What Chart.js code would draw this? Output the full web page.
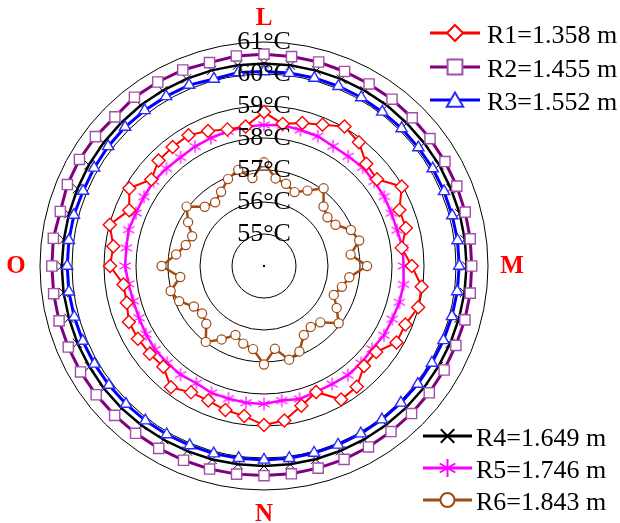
<!DOCTYPE html>
<html>
<head>
<meta charset="utf-8">
<script src="https://cdn.jsdelivr.net/npm/chart.js@4.4.0/dist/chart.umd.min.js"></script>
<style>
html,body{margin:0;padding:0;background:#fff;}
#wrap{width:620px;height:523px;position:relative;}
canvas{display:block;}
</style>
</head>
<body>
<div id="wrap"><canvas id="c" width="620" height="523"></canvas></div>
<script>
// ---- data ----
const directionLabels = ['L', 'M', 'N', 'O'];   // top, right, bottom, left
const pointCount = 48;                           // one point every 7.5°
const tickValues = [55, 56, 57, 58, 59, 60, 61];
const seriesNames = ['R1=1.358 m', 'R2=1.455 m', 'R3=1.552 m', 'R4=1.649 m', 'R5=1.746 m', 'R6=1.843 m'];

const R1 = [58.81,58.48,58.63,58.78,59.03,58.87,58.52,58.45,58.97,58.58,58.59,58.34,
            58.62,58.97,58.99,58.78,58.78,58.42,58.42,58.76,58.82,58.26,58.52,58.87,
            58.97,58.73,58.66,58.55,58.56,58.78,58.45,58.50,58.55,58.57,58.44,58.43,
            58.81,58.75,58.99,58.56,58.86,58.44,58.66,58.69,58.72,58.57,58.42,58.40];
const R2 = [60.62,60.60,60.60,60.58,60.57,60.57,60.55,60.54,60.53,60.52,60.51,60.50,
            60.49,60.50,60.50,60.49,60.50,60.51,60.52,60.52,60.53,60.54,60.54,60.55,
            60.55,60.56,60.57,60.57,60.58,60.59,60.60,60.61,60.62,60.62,60.63,60.63,
            60.63,60.64,60.59,60.65,60.66,60.64,60.59,60.65,60.64,60.63,60.58,60.62];
const R3 = [60.08,60.08,60.08,60.08,60.08,60.07,60.08,60.08,60.09,60.09,60.09,60.10,
            60.10,60.09,60.08,60.07,60.06,60.06,60.05,60.05,60.05,60.05,60.05,60.06,
            60.06,60.06,60.07,60.07,60.08,60.09,60.10,60.11,60.12,60.13,60.14,60.15,
            60.15,60.15,60.15,60.12,60.13,60.14,60.14,60.13,60.12,60.12,60.05,60.10];
const R4 = [60.33,60.33,60.32,60.32,60.32,60.32,60.31,60.31,60.32,60.32,60.33,60.33,
            60.33,60.32,60.31,60.30,60.29,60.28,60.27,60.26,60.26,60.25,60.25,60.25,
            60.25,60.25,60.26,60.26,60.27,60.28,60.29,60.30,60.30,60.31,60.31,60.32,
            60.32,60.31,60.31,60.31,60.32,60.32,60.32,60.33,60.33,60.33,60.33,60.33];
const R5 = [58.41,58.44,58.40,58.39,58.32,58.32,58.36,58.34,58.34,58.31,58.31,58.37,
            58.36,58.40,58.38,58.34,58.33,58.26,58.29,58.30,58.26,58.26,58.30,58.24,
            58.31,58.31,58.29,58.29,58.23,58.28,58.28,58.29,58.26,58.23,58.23,58.27,
            58.34,58.34,58.38,58.33,58.33,58.35,58.31,58.28,58.31,58.33,58.36,58.39];
const R6 = [57.24,56.76,56.66,56.50,56.72,57.06,56.63,56.50,56.58,56.94,57.08,56.73,
            57.22,56.69,56.52,56.36,56.62,56.94,56.49,56.40,56.49,56.89,57.03,56.61,
            57.08,56.62,56.51,56.33,56.65,56.99,56.55,56.44,56.53,56.87,57.02,56.64,
            57.20,56.77,56.53,56.43,56.74,57.05,56.62,56.51,56.68,56.94,57.11,56.77];

// ---- styles ----
const serif = '"Liberation Serif", "Times New Roman", Times, serif';

function asteriskCanvas(r, color, lw) {
  const size = Math.ceil(2 * r + 2 * lw + 2);
  const cv = document.createElement('canvas');
  cv.width = size; cv.height = size;
  const c = cv.getContext('2d');
  const m = size / 2;
  c.strokeStyle = color; c.lineWidth = lw; c.lineCap = 'butt';
  c.beginPath();
  for (let j = 0; j < 3; j++) {
    const a = Math.PI / 2 + j * Math.PI / 3;
    c.moveTo(m + Math.cos(a) * r, m - Math.sin(a) * r);
    c.lineTo(m - Math.cos(a) * r, m + Math.sin(a) * r);
  }
  c.stroke();
  return cv;
}

const styles = [
  {line:'#ff0000', mark:'#ff0000', shape:'rectRot',  r:6.5, lw:2,   pw:1.4},
  {line:'#800080', mark:'#a050a8', shape:'rect',     r:7.2, lw:3,   pw:1.4},
  {line:'#0000ff', mark:'#2a2aff', shape:'triangle', r:6.5, lw:3,   pw:1.4},
  {line:'#000000', mark:'#000000', shape:'crossRot', r:6.5, lw:2.5, pw:1},
  {line:'#ff00ff', mark:'#ff00ff', shape:'asterisk', r:6.5, lw:2.5, pw:1.2},
  {line:'#a04a14', mark:'#a04a14', shape:'circle',   r:4.6, lw:2.5, pw:1.2}
];
const seriesData = [R1, R2, R3, R4, R5, R6];

const labels = [];
for (let i = 0; i < pointCount; i++) {
  labels.push(i % (pointCount / 4) === 0 ? directionLabels[i / (pointCount / 4)] : '');
}

const datasets = seriesData.map((d, k) => {
  const st = styles[k];
  const ps = st.shape === 'asterisk' ? asteriskCanvas(st.r, st.mark, st.pw) : st.shape;
  return {
    label: seriesNames[k],
    data: d,
    borderColor: st.line,
    borderWidth: st.lw,
    fill: false,
    tension: 0,
    pointStyle: ps,
    pointRadius: st.r,
    pointHoverRadius: st.r,
    pointBorderColor: st.mark,
    pointBackgroundColor: '#ffffff',
    pointBorderWidth: st.pw,
    order: k
  };
});

function marker(ctx, shape, x, y, r, color, lw) {
  ctx.save();
  ctx.strokeStyle = color; ctx.fillStyle = '#fff'; ctx.lineWidth = lw;
  ctx.beginPath();
  const s = Math.SQRT1_2 * r;
  if (shape === 'rectRot') {
    ctx.moveTo(x, y - r); ctx.lineTo(x + r, y); ctx.lineTo(x, y + r); ctx.lineTo(x - r, y); ctx.closePath();
    ctx.fill(); ctx.stroke();
  } else if (shape === 'rect') {
    ctx.rect(x - s, y - s, 2 * s, 2 * s); ctx.fill(); ctx.stroke();
  } else if (shape === 'triangle') {
    for (let j = 0; j < 3; j++) {
      const a = j * 2 * Math.PI / 3;
      const px = x + Math.sin(a) * r, py = y - Math.cos(a) * r;
      if (j === 0) ctx.moveTo(px, py); else ctx.lineTo(px, py);
    }
    ctx.closePath(); ctx.fill(); ctx.stroke();
  } else if (shape === 'crossRot') {
    ctx.moveTo(x - s, y - s); ctx.lineTo(x + s, y + s);
    ctx.moveTo(x + s, y - s); ctx.lineTo(x - s, y + s); ctx.stroke();
  } else if (shape === 'asterisk') {
    for (let j = 0; j < 3; j++) {
      const a = Math.PI / 2 + j * Math.PI / 3;
      ctx.moveTo(x + Math.cos(a) * r, y - Math.sin(a) * r);
      ctx.lineTo(x - Math.cos(a) * r, y + Math.sin(a) * r);
    }
    ctx.stroke();
  } else if (shape === 'circle') {
    ctx.arc(x, y, r, 0, 2 * Math.PI); ctx.fill(); ctx.stroke();
  }
  ctx.restore();
}

const extras = {
  id: 'extras',
  afterDatasetsDraw(chart) {
    const ctx = chart.ctx;
    const s = chart.scales.r;
    ctx.save();
    // temperature ring labels, drawn above the series like the original
    ctx.fillStyle = '#000';
    ctx.font = '26px ' + serif;
    ctx.textAlign = 'center';
    ctx.textBaseline = 'middle';
    tickValues.forEach(v => {
      const d = s.getDistanceFromCenterForValue(v);
      ctx.fillText(v + '°C', s.xCenter, s.yCenter - d);
    });
    ctx.restore();
  },
  afterDraw(chart) {
    const ctx = chart.ctx;
    const s = chart.scales.r;
    ctx.save();
    // center dot
    ctx.fillStyle = '#000';
    ctx.fillRect(s.xCenter - 1, s.yCenter - 1, 2, 2);
    // direction labels
    ctx.fillStyle = '#ff0000';
    ctx.font = 'bold 25px ' + serif;
    ctx.textAlign = 'center';
    ctx.textBaseline = 'middle';
    labels.forEach((t, i) => {
      if (!t) return;
      const p = s.getPointPosition(i, s.drawingArea + 24);
      ctx.fillText(t, p.x, p.y + 1);
    });
    // legends (two blocks)
    const groups = [
      {items:[0,1,2], x0:430, x1:480, tx:487, ys:[33,67,100]},
      {items:[3,4,5], x0:423, x1:472, tx:476, ys:[436,468,500]}
    ];
    const legMarkR = [8, 10.5, 9.5, 9.5, 9, 7];
    ctx.font = '26px ' + serif;
    ctx.textAlign = 'left';
    ctx.textBaseline = 'alphabetic';
    groups.forEach(g => {
      g.items.forEach((k, j) => {
        const y = g.ys[j];
        ctx.strokeStyle = styles[k].line;
        ctx.lineWidth = 3;
        ctx.beginPath(); ctx.moveTo(g.x0, y); ctx.lineTo(g.x1, y); ctx.stroke();
        marker(ctx, styles[k].shape, (g.x0 + g.x1) / 2, y + (styles[k].shape === 'triangle' ? 2 : 0),
               legMarkR[k], styles[k].mark, 2);
        ctx.fillStyle = '#000';
        ctx.fillText(seriesNames[k], g.tx, y + 10);
      });
    });
    ctx.restore();
  }
};

new Chart(document.getElementById('c'), {
  type: 'radar',
  data: { labels: labels, datasets: datasets },
  options: {
    responsive: false,
    animation: false,
    devicePixelRatio: 1,
    layout: { padding: { left: 40, top: 42, right: 132, bottom: 33 }, autoPadding: false },
    plugins: { legend: { display: false }, tooltip: { enabled: false } },
    scales: {
      r: {
        min: 54, max: 61,
        beginAtZero: false,
        angleLines: { display: false },
        grid: { circular: true, color: '#000', lineWidth: 1 },
        pointLabels: { display: false },
        ticks: { stepSize: 1, display: false }
      }
    }
  },
  plugins: [extras]
});
</script>
</body>
</html>
